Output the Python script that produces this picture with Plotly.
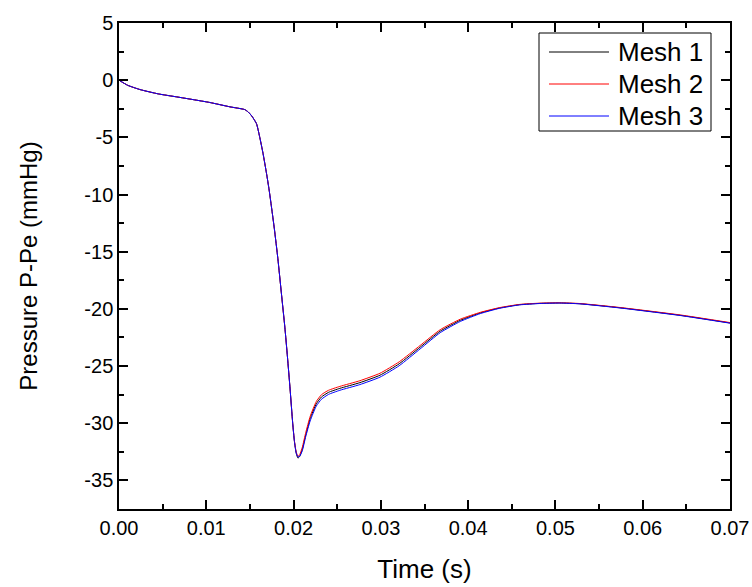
import plotly.graph_objects as go

time_s = [0, 0.001, 0.0024, 0.0045, 0.0066, 0.0085, 0.0104, 0.0127, 0.0144, 0.0148,
          0.0152, 0.01575, 0.0161, 0.0165, 0.0169, 0.0172, 0.01747, 0.0178, 0.0182, 0.0186,
          0.019, 0.0193, 0.0196, 0.0199, 0.0201, 0.0203, 0.0205, 0.0207, 0.021, 0.0214,
          0.0219, 0.0226, 0.0232, 0.024, 0.0253, 0.0276, 0.0299, 0.0321, 0.0345, 0.0368,
          0.0391, 0.0414, 0.0436, 0.0459, 0.0482, 0.0505, 0.0528, 0.0574, 0.0643, 0.070]

# early part where all three meshes coincide
common_start = [0, -0.45, -0.82, -1.2, -1.46, -1.7, -1.95, -2.33, -2.57, -2.78,
                -3.12, -3.8, -4.9, -6.4, -8.15, -9.6, -11.1, -13.0, -15.6, -18.6,
                -21.6, -24.2, -27.0, -30.0]

mesh1 = common_start + [-31.6, -32.6, -33.05, -32.9, -32.3, -31.0, -29.6, -28.3, -27.7, -27.3,
                        -26.95, -26.45, -25.8, -24.8, -23.35, -21.95, -21.0, -20.35, -19.92, -19.63,
                        -19.52, -19.48, -19.55, -19.9, -20.56, -21.23]
mesh2 = common_start + [-31.55, -32.5, -32.9, -32.75, -32.1, -30.8, -29.4, -28.1, -27.5, -27.12,
                        -26.78, -26.28, -25.63, -24.63, -23.2, -21.82, -20.9, -20.3, -19.89, -19.61,
                        -19.5, -19.47, -19.53, -19.88, -20.53, -21.2]
mesh3 = common_start + [-31.6, -32.6, -32.95, -32.9, -32.4, -31.15, -29.8, -28.5, -27.9, -27.48,
                        -27.12, -26.62, -25.97, -24.97, -23.5, -22.08, -21.1, -20.41, -19.95, -19.65,
                        -19.53, -19.49, -19.56, -19.92, -20.58, -21.25]

series_names = ["Mesh 1", "Mesh 2", "Mesh 3"]
series_colors = ["#000000", "#ff0000", "#0000ff"]
series_values = [mesh1, mesh2, mesh3]

x_tickvals = [0, 0.01, 0.02, 0.03, 0.04, 0.05, 0.06, 0.07]
x_ticktext = ["0.00", "0.01", "0.02", "0.03", "0.04", "0.05", "0.06", "0.07"]
y_tickvals = [5, 0, -5, -10, -15, -20, -25, -30, -35]
y_ticktext = ["5", "0", "-5", "-10", "-15", "-20", "-25", "-30", "-35"]

W, H = 752, 587
L, R, T, B = 119, 22, 23, 78

fig = go.Figure()
for name, vals, col in zip(series_names, series_values, series_colors):
    fig.add_trace(go.Scatter(x=time_s, y=vals, mode="lines", name=name, showlegend=False,
                             line=dict(color=col, width=1, shape="spline", smoothing=0.5)))

font_family = "Liberation Sans, Arial, sans-serif"
axis_common = dict(showline=True, linecolor="black", linewidth=1.5, mirror="ticks",
                   ticks="inside", ticklen=9, tickwidth=1.5, tickcolor="black",
                   showgrid=False, zeroline=False, automargin=False,
                   tickfont=dict(family=font_family, size=20, color="black"))

fig.update_xaxes(range=[0, 0.07], tickmode="array", tickvals=x_tickvals, ticktext=x_ticktext,
                 minor=dict(tickvals=[0.005, 0.015, 0.025, 0.035, 0.045, 0.055, 0.065],
                            ticks="inside", ticklen=5, tickwidth=1.5, tickcolor="black"),
                 title=dict(text="Time (s)", font=dict(family=font_family, size=26, color="black"),
                            standoff=22),
                 **axis_common)
fig.update_yaxes(range=[-37.5, 5], tickmode="array", tickvals=y_tickvals, ticktext=y_ticktext,
                 minor=dict(tickvals=[2.5, -2.5, -7.5, -12.5, -17.5, -22.5, -27.5, -32.5, -37.5],
                            ticks="inside", ticklen=5, tickwidth=1.5, tickcolor="black"),
                 title=dict(text="Pressure P-Pe (mmHg)", font=dict(family=font_family, size=24, color="black"),
                            standoff=40),
                 **axis_common)

# legend box drawn in paper coordinates (pixel layout -> paper fractions)
pw, ph = W - L - R, H - T - B
def px_x(x):
    return (x - L) / pw
def px_y(y):
    return (H - B - y) / ph

fig.add_shape(type="rect", xref="paper", yref="paper",
              x0=px_x(539), x1=px_x(711), y0=px_y(131), y1=px_y(33),
              line=dict(color="black", width=1), fillcolor="white", layer="above")
row_y = [52, 84, 116]
for name, col, yy in zip(series_names, series_colors, row_y):
    fig.add_shape(type="line", xref="paper", yref="paper",
                  x0=px_x(549), x1=px_x(609), y0=px_y(yy), y1=px_y(yy),
                  line=dict(color=col, width=1), layer="above")
    fig.add_annotation(xref="paper", yref="paper", x=px_x(616), y=px_y(yy),
                       text=name, showarrow=False, xanchor="left", yanchor="middle",
                       font=dict(family=font_family, size=26, color="black"))

fig.update_layout(
    width=W, height=H,
    margin=dict(l=L, r=R, t=T, b=B),
    plot_bgcolor="white", paper_bgcolor="white",
    font=dict(family=font_family, color="black"),
    showlegend=False,
)

fig.write_html("out.html")
